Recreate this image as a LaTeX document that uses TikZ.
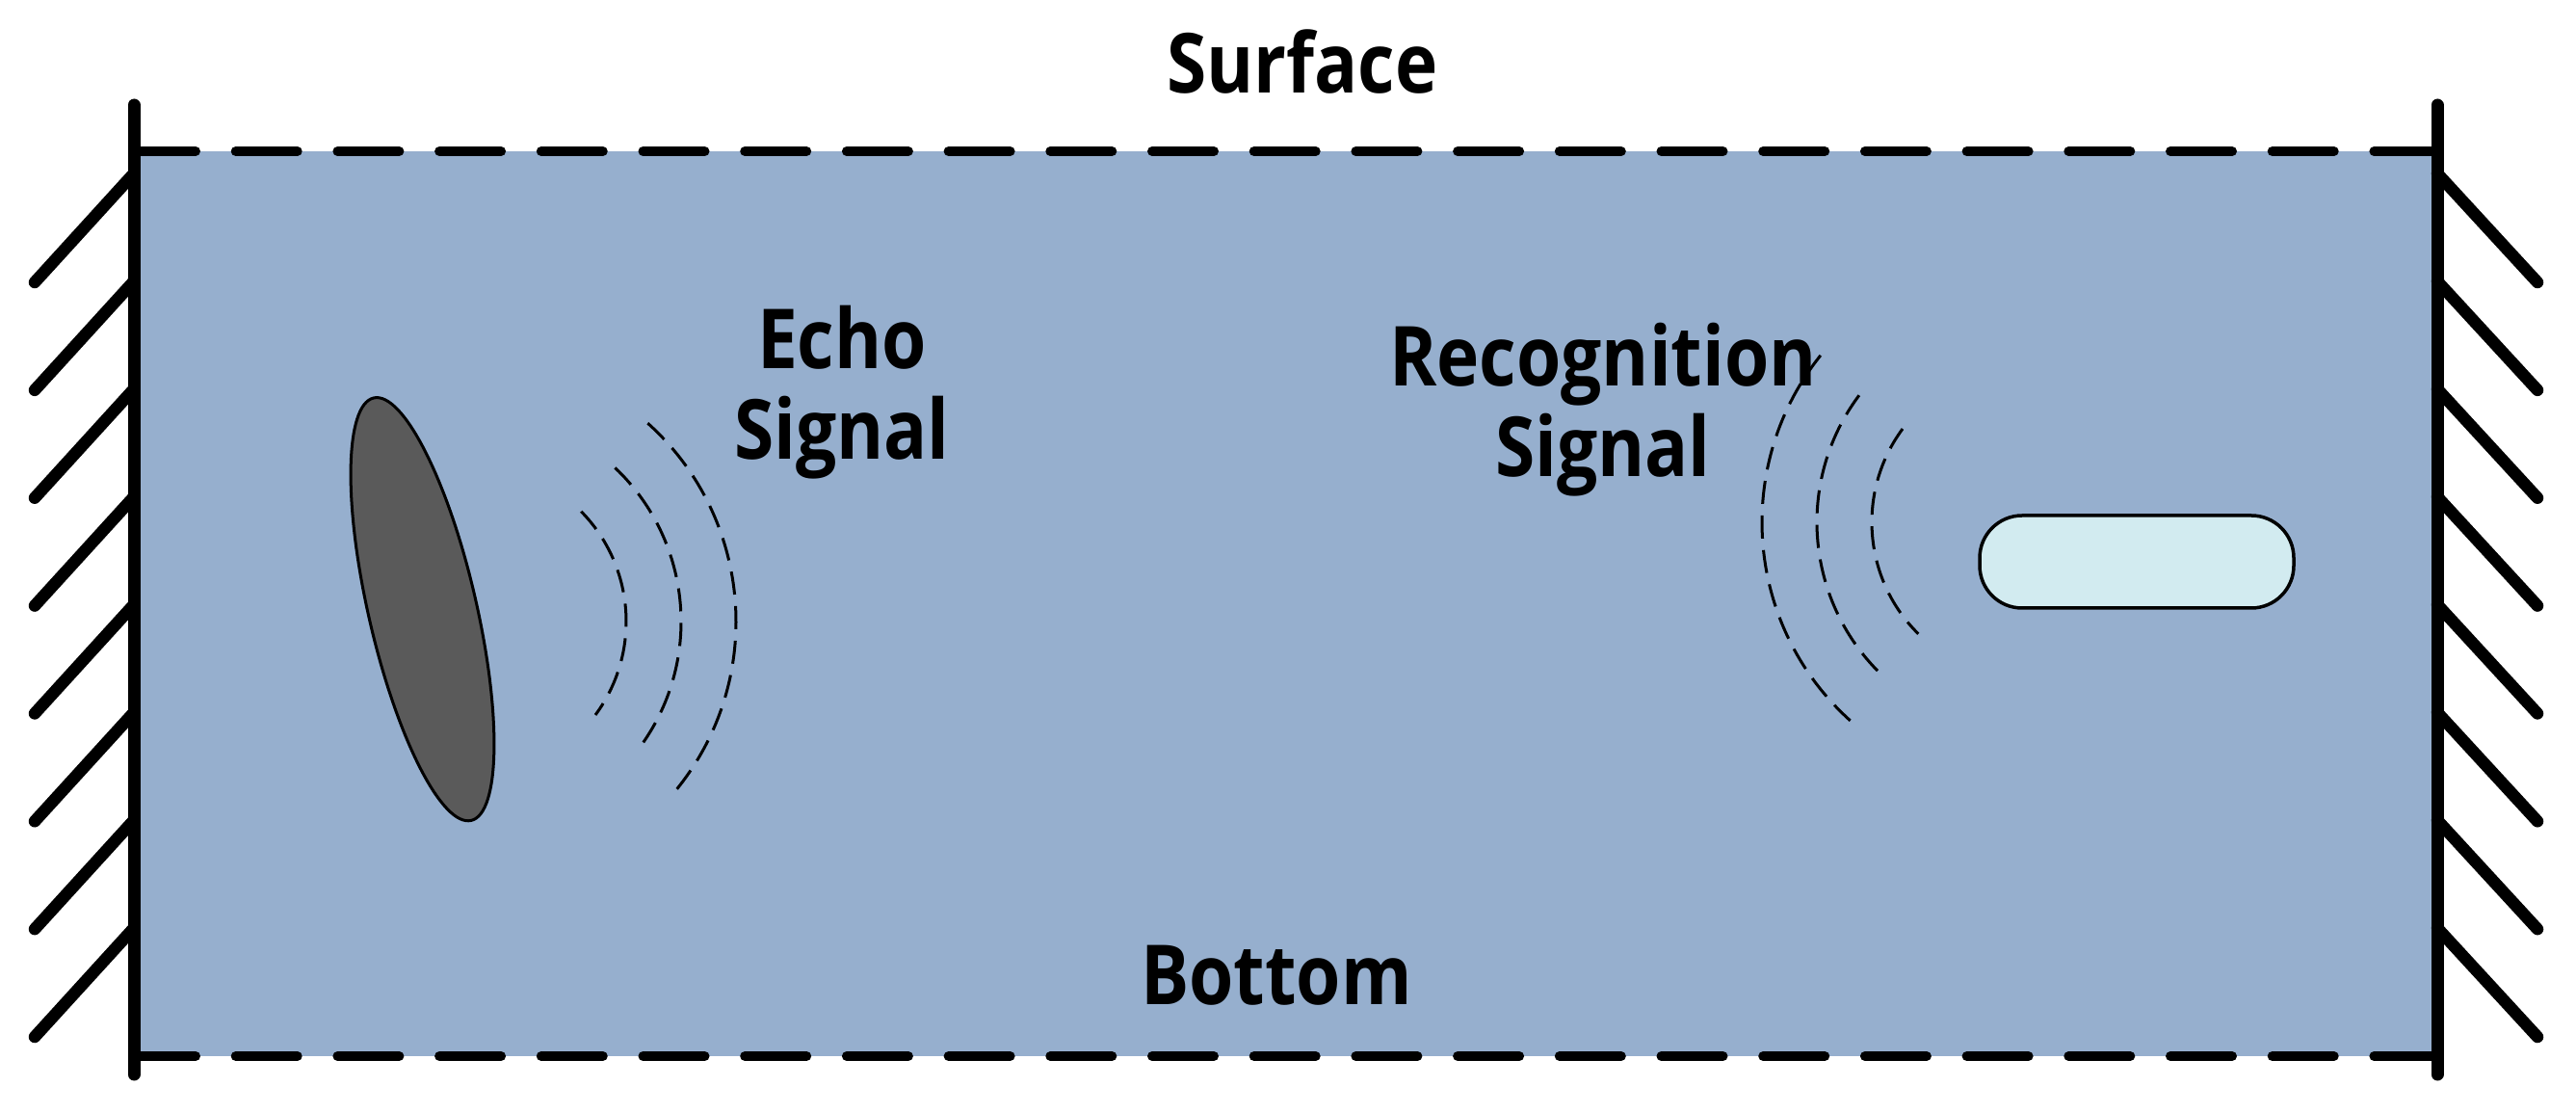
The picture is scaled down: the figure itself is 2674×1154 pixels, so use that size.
\documentclass[tikz,border=0pt]{standalone}
\usepackage{fontspec}
\newfontfamily\lblfont[FakeStretch=0.87]{Open Sans}
\definecolor{water}{RGB}{150,175,206}
\definecolor{rockgray}{RGB}{90,90,90}
\definecolor{capfill}{RGB}{210,235,240}
\begin{document}
\begin{tikzpicture}[x=1pt,y=1pt,
  wall/.style={line width=13pt, line cap=round},
  hatch/.style={line width=12.5pt, line cap=round},
  surfline/.style={line width=10pt, line cap=round, dash pattern=on 64pt off 41.7pt},
  wave/.style={line width=3pt, dash pattern=on 24pt off 12pt},
  lbl/.style={font=\lblfont\bfseries\fontsize{86}{94.5}\selectfont, align=center, anchor=base, inner sep=0pt}]
\useasboundingbox (0,0) rectangle (2674,1154);
% water body
\fill[water] (139,58) rectangle (2530,997);
% surface and bottom
\draw[surfline] (139,997) -- (2530,997);
\draw[surfline] (139,58) -- (2530,58);
% walls with hatching
\draw[wall] (139,39) -- (139,1045);
\draw[wall] (2530,39) -- (2530,1045);
\foreach \k in {0,...,7} {
  \pgfmathsetmacro{\yy}{974-111.86*\k}
  \draw[hatch] (139,\yy) -- (36,\yy-113);
  \draw[hatch] (2530,\yy) -- (2634,\yy-113);
}
% reflecting object
\draw[line width=3pt, fill=rockgray, rotate around={13:(438.5,521.8)}] (438.5,521.8) ellipse [x radius=56, y radius=225];
% transmitter
\draw[line width=3.5pt, fill=capfill, rounded corners=44pt] (2055,523) rectangle (2381,619);
% echo waves
\draw[wave] (487,509) ++(48:277) arc[start angle=48, end angle=-39, radius=277];
\draw[wave] (487,509) ++(46.5:220) arc[start angle=46.5, end angle=-37, radius=220];
\draw[wave] (487,509) ++(44.5:163) arc[start angle=44.5, end angle=-36.5, radius=163];
% recognition waves
\draw[wave] (2106,612) ++(141.3:277) arc[start angle=141.3, end angle=228, radius=277];
\draw[wave] (2106,612) ++(143.2:220) arc[start angle=143.2, end angle=227, radius=220];
\draw[wave] (2106,612) ++(143.5:163) arc[start angle=143.5, end angle=225.3, radius=163];
% labels (base = baseline of the last line)
\node[lbl] (surface) at (1352,1057) {Surface};
\node[lbl] (echo) at (874,677) {Echo\\Signal};
\node[lbl] (recog) at (1664,659) {Recognition\\Signal};
\node[lbl] (bottom) at (1325,111) {Bottom};
\end{tikzpicture}
\end{document}
